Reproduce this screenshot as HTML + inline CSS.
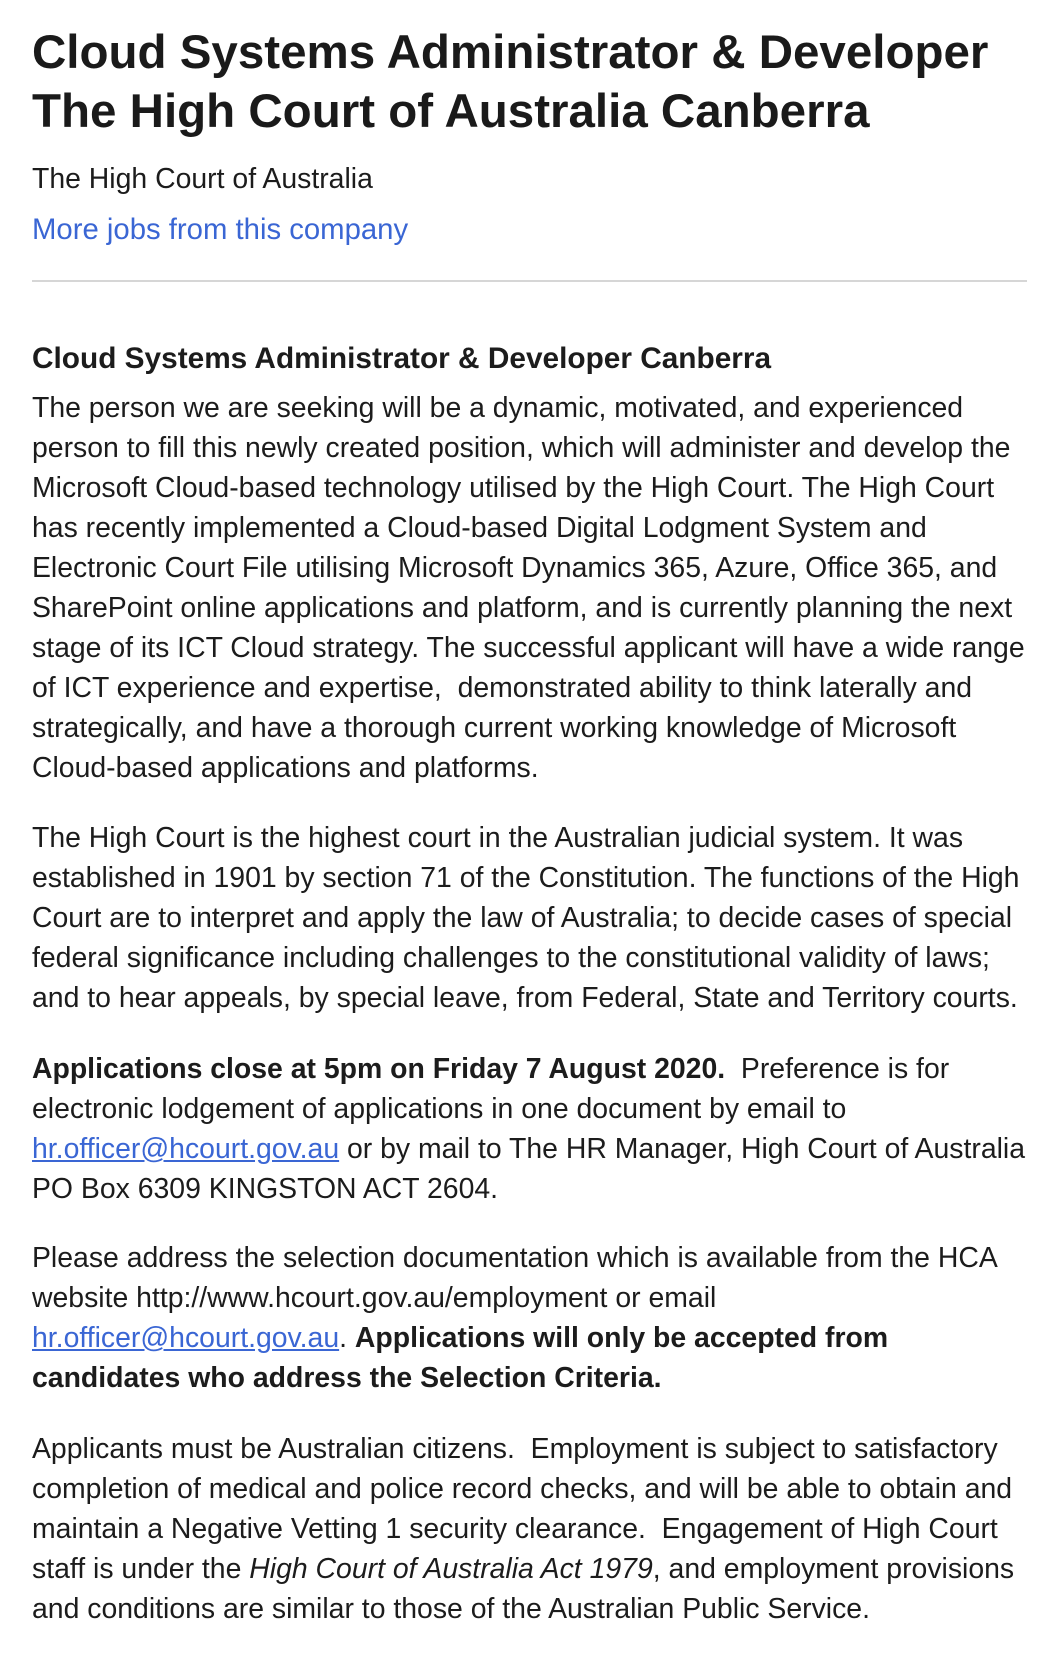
<!DOCTYPE html>
<html><head><meta charset="utf-8"><style>
body{margin:0;width:1054px;height:1672px;background:#fff;position:relative;font-family:"Liberation Sans",Arial,sans-serif;color:#1c1c1c;overflow:hidden}
.a{position:absolute;left:32px;white-space:nowrap}
h1{position:absolute;left:32px;top:23px;margin:0;font-size:47.5px;line-height:59px;font-weight:bold;white-space:nowrap;color:#1a1a1a}
.p{font-size:28.4px;line-height:40px}
a{color:#3a66d4;text-decoration:none}
.u{text-decoration:underline}
hr{position:absolute;left:32px;top:280px;width:995px;margin:0;border:0;border-top:2px solid #d6d6d6}
b{font-weight:bold}
</style></head><body>
<h1>Cloud Systems Administrator &amp; Developer<br>The High Court of Australia Canberra</h1>
<div class="a p" style="top:159px">The High Court of Australia</div>
<div class="a p" style="top:210px;font-size:29.3px"><a>More jobs from this company</a></div>
<hr>
<div class="a p" style="top:339px;font-size:29.8px"><b>Cloud Systems Administrator &amp; Developer Canberra</b></div>
<div class="a p" style="top:388px">The person we are seeking will be a dynamic, motivated, and experienced<br>person to fill this newly created position, which will administer and develop the<br>Microsoft Cloud-based technology utilised by the High Court. The High Court<br>has recently implemented a Cloud-based Digital Lodgment System and<br>Electronic Court File utilising Microsoft Dynamics 365, Azure, Office 365, and<br>SharePoint online applications and platform, and is currently planning the next<br>stage of its ICT Cloud strategy. The successful applicant will have a wide range<br>of ICT experience and expertise,&nbsp; demonstrated ability to think laterally and<br>strategically, and have a thorough current working knowledge of Microsoft<br>Cloud-based applications and platforms.</div>
<div class="a p" style="top:818px">The High Court is the highest court in the Australian judicial system. It was<br>established in 1901 by section 71 of the Constitution. The functions of the High<br>Court are to interpret and apply the law of Australia; to decide cases of special<br>federal significance including challenges to the constitutional validity of laws;<br>and to hear appeals, by special leave, from Federal, State and Territory courts.</div>
<div class="a p" style="top:1049px"><b>Applications close at 5pm on Friday 7 August 2020.</b>&nbsp; Preference is for<br>electronic lodgement of applications in one document by email to<br><a class="u">hr.officer@hcourt.gov.au</a> or by mail to The HR Manager, High Court of Australia<br>PO Box 6309 KINGSTON ACT 2604.</div>
<div class="a p" style="top:1238px">Please address the selection documentation which is available from the HCA<br>website http://www.hcourt.gov.au/employment or email<br><a class="u">hr.officer@hcourt.gov.au</a>. <b>Applications will only be accepted from<br>candidates who address the Selection Criteria.</b></div>
<div class="a p" style="top:1429px">Applicants must be Australian citizens.&nbsp; Employment is subject to satisfactory<br>completion of medical and police record checks, and will be able to obtain and<br>maintain a Negative Vetting 1 security clearance.&nbsp; Engagement of High Court<br>staff is under the <i>High Court of Australia Act 1979</i>, and employment provisions<br>and conditions are similar to those of the Australian Public Service.</div>
</body></html>
